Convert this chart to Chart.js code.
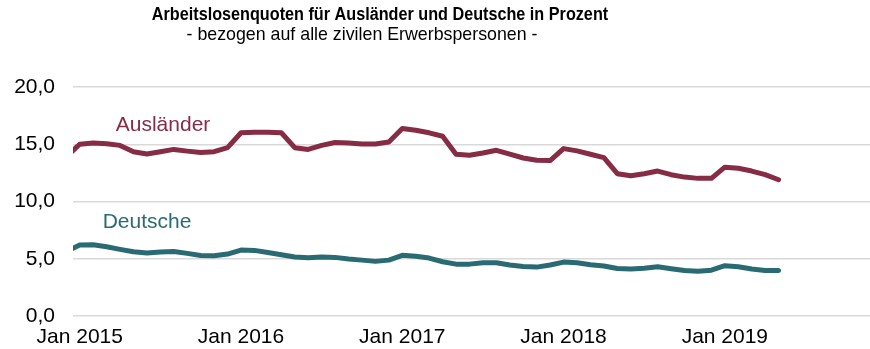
<!DOCTYPE html>
<html>
<head>
<meta charset="utf-8">
<script src="https://cdn.jsdelivr.net/npm/chart.js@4/dist/chart.umd.min.js"></script>
<style>
  html, body { margin: 0; padding: 0; background: #fff; }
  #wrap { width: 870px; height: 349px; }
</style>
</head>
<body>
<div id="wrap"><canvas id="myChart" width="870" height="349"></canvas></div>
<script>
// months from Dec 2014 (index -1) to May 2019 (index 52)
const months = []
for (let n = -1; n <= 52; n++) {
    const d = new Date(2015, n, 1)
    months.push(d.toLocaleString('de-DE', { month: 'short' }) + ' ' + d.getFullYear())
}
const tickLabels = ['Jan 2015', 'Jan 2016', 'Jan 2017', 'Jan 2018', 'Jan 2019']
const tickIndex = [0, 12, 24, 36, 48]

const auslaender = [
    13.9,
    15.0, 15.1, 15.05, 14.9, 14.35, 14.15, 14.35, 14.55, 14.4, 14.27, 14.35, 14.7,
    16.0, 16.05, 16.05, 16.0, 14.7, 14.55, 14.9, 15.15, 15.1, 15.03, 15.03, 15.2,
    16.37, 16.22, 16.0, 15.7, 14.13, 14.04, 14.24, 14.47, 14.13, 13.8, 13.6, 13.57,
    14.62, 14.42, 14.13, 13.83, 12.43, 12.25, 12.43, 12.66, 12.34, 12.13, 12.02, 12.02,
    13.0, 12.9, 12.66, 12.34, 11.9
]
const deutsche = [
    5.65,
    6.2, 6.22, 6.05, 5.82, 5.61, 5.5, 5.58, 5.64, 5.47, 5.29, 5.26, 5.41,
    5.76, 5.73, 5.55, 5.35, 5.15, 5.09, 5.15, 5.12, 4.97, 4.88, 4.77, 4.88,
    5.3, 5.22, 5.06, 4.74, 4.53, 4.53, 4.65, 4.65, 4.45, 4.33, 4.27, 4.45,
    4.71, 4.65, 4.48, 4.36, 4.15, 4.1, 4.18, 4.3, 4.13, 3.98, 3.9, 4.0,
    4.39, 4.3, 4.1, 3.98, 3.97
]

const colAus = '#862c44'
const colDeu = '#2a6b73'
const font = 'Liberation Sans, Arial, sans-serif'

const toPoints = arr => arr.map((v, i) => ({ x: i - 1, y: v }))

// heading and series names drawn straight onto the canvas
const textPlugin = {
    id: 'texts',
    afterDraw(chart) {
        const c = chart.ctx
        const xs = chart.scales.x, ys = chart.scales.y
        c.save()
        c.textBaseline = 'alphabetic'
        c.textAlign = 'center'
        c.fillStyle = '#000'
        // narrow bold heading
        c.save()
        c.translate(380, 20)
        c.scale(0.9, 1)
        c.font = 'bold 18px ' + font
        c.fillText('Arbeitslosenquoten für Ausländer und Deutsche in Prozent', 0, 0)
        c.restore()
        c.font = '17.8px ' + font
        c.fillText('- bezogen auf alle zivilen Erwerbspersonen -', 362, 40)
        c.textAlign = 'left'
        c.textBaseline = 'middle'
        c.font = '21px ' + font
        c.fillStyle = colAus
        c.fillText('Ausländer', xs.getPixelForValue(2.68), ys.getPixelForValue(16.7))
        c.fillStyle = colDeu
        c.fillText('Deutsche', xs.getPixelForValue(1.71), ys.getPixelForValue(8.2))
        c.restore()
    }
}

const data = {
    datasets: [{
        label: 'Ausländer',
        data: toPoints(auslaender),
        borderColor: colAus,
        borderWidth: 5,
        fill: false
    },
    {
        label: 'Deutsche',
        data: toPoints(deutsche),
        borderColor: colDeu,
        borderWidth: 5,
        fill: false
    }]
}

const config = {
    type: 'line',
    data,
    options: {
        responsive: false,
        animation: false,
        clip: 0,
        layout: { padding: { top: 87, right: 0, bottom: 0, left: 0 } },
        elements: {
            point: { radius: 0 },
            line: { tension: 0, borderJoinStyle: 'round', borderCapStyle: 'round' }
        },
        plugins: {
            legend: { display: false },
            tooltip: { enabled: false }
        },
        scales: {
            x: {
                type: 'linear',
                min: -0.5,
                max: 58.8,
                grid: { display: false, drawTicks: false },
                border: { display: false },
                afterBuildTicks: scale => {
                    scale.ticks = tickIndex.map(v => ({ value: v }))
                },
                afterFit: scale => { scale.height = 33 },
                ticks: {
                    autoSkip: false,
                    maxRotation: 0,
                    padding: 9,
                    color: '#000',
                    font: { family: font, size: 21 },
                    callback: v => tickLabels[tickIndex.indexOf(v)]
                }
            },
            y: {
                min: 0,
                max: 20,
                grid: { color: '#d9d9d9', lineWidth: 1.5, drawTicks: false },
                border: { display: false },
                afterFit: scale => { scale.width = 73 },
                ticks: {
                    stepSize: 5,
                    padding: 18,
                    color: '#000',
                    font: { family: font, size: 21 },
                    callback: v => v.toFixed(1).replace('.', ',')
                }
            }
        }
    },
    plugins: [textPlugin]
}

const myChart = new Chart(document.getElementById('myChart').getContext('2d'), config)
</script>
</body>
</html>
